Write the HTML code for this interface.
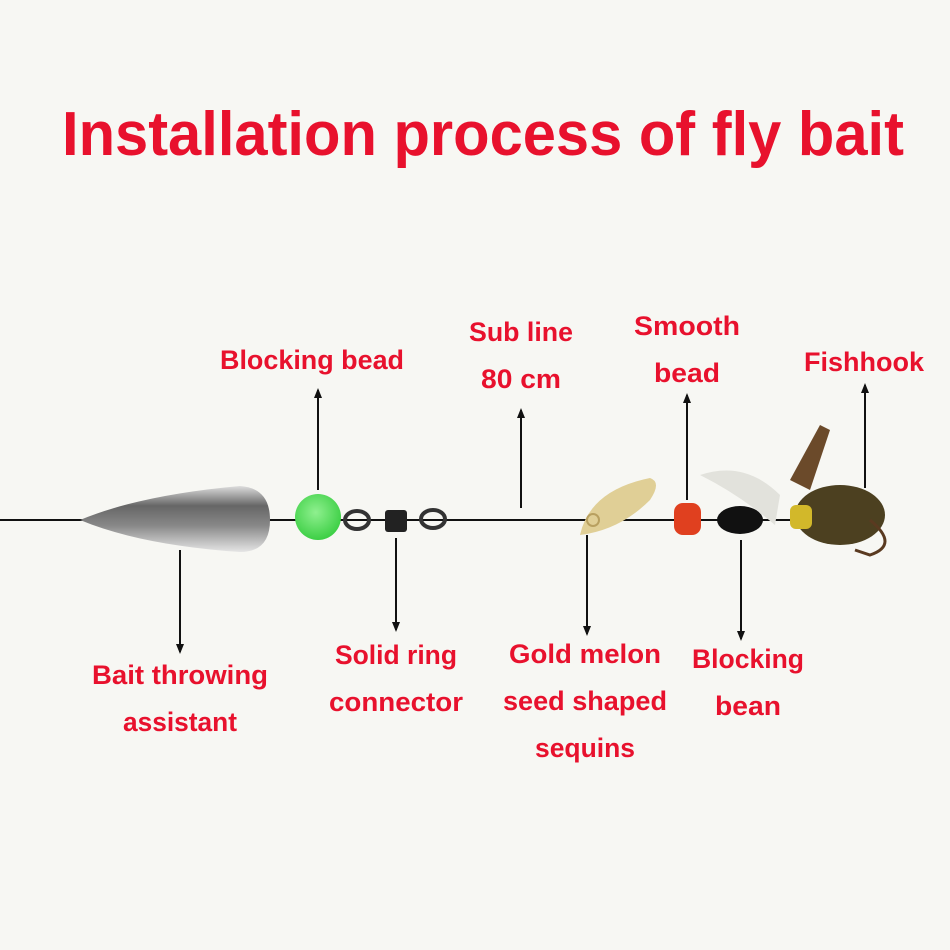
<!DOCTYPE html>
<html><head><style>html,body{margin:0;padding:0;background:#f7f7f3}svg{display:block}</style></head>
<body>
<svg width="950" height="950" viewBox="0 0 950 950" xmlns="http://www.w3.org/2000/svg">
<defs>
<marker id="a" markerUnits="userSpaceOnUse" markerWidth="10" markerHeight="10" refX="8" refY="5" orient="auto"><path d="M0,1 L10,5 L0,9 z" fill="#111"/></marker>
<linearGradient id="sink" x1="0" y1="0" x2="0" y2="1"><stop offset="0" stop-color="#ddd"/><stop offset="0.3" stop-color="#666"/><stop offset="0.6" stop-color="#888"/><stop offset="1" stop-color="#e5e5e5"/></linearGradient>
<radialGradient id="grn" cx="0.45" cy="0.4" r="0.6"><stop offset="0" stop-color="#8ff08f"/><stop offset="1" stop-color="#3dcf45"/></radialGradient>
</defs>
<rect width="950" height="950" fill="#f7f7f3"/>
<text x="483" y="155" text-anchor="middle" font-family="Liberation Sans, sans-serif" font-weight="bold" font-size="62" fill="#e8112d" textLength="842" lengthAdjust="spacingAndGlyphs">Installation process of fly bait</text>
<line x1="0" y1="520" x2="800" y2="520" stroke="#111" stroke-width="2"/>
<path d="M80,520 Q140,495 240,486 Q270,488 270,520 Q270,552 240,552 Q140,545 80,520 z" fill="url(#sink)"/>
<circle cx="318" cy="517" r="23" fill="url(#grn)"/>
<ellipse cx="357" cy="520" rx="12" ry="9" fill="none" stroke="#333" stroke-width="4"/>
<rect x="385" y="510" width="22" height="22" rx="3" fill="#222"/>
<ellipse cx="433" cy="519" rx="12" ry="9" fill="none" stroke="#333" stroke-width="4"/>
<path d="M580,535 Q590,490 650,478 Q662,482 650,500 Q620,530 580,535 z" fill="#e0cf96"/>
<circle cx="593" cy="520" r="6" fill="none" stroke="#b8a060" stroke-width="2"/>
<path d="M700,475 Q745,460 780,495 L775,525 Q740,495 700,475 z" fill="#e2e2dc"/>
<rect x="674" y="503" width="27" height="32" rx="9" fill="#e0401f"/>
<ellipse cx="740" cy="520" rx="23" ry="14" fill="#111"/>
<path d="M790,480 L820,425 L830,430 L810,490 z" fill="#6b4a2a"/>
<ellipse cx="840" cy="515" rx="45" ry="30" fill="#4c4020"/>
<rect x="790" y="505" width="22" height="24" rx="6" fill="#d2b82a"/>
<path d="M870,520 Q900,545 870,555 L855,550" fill="none" stroke="#5a3a20" stroke-width="3"/>
<g stroke="#111" stroke-width="2" marker-end="url(#a)">
<line x1="318" y1="490" x2="318" y2="390"/>
<line x1="521" y1="508" x2="521" y2="410"/>
<line x1="687" y1="500" x2="687" y2="395"/>
<line x1="865" y1="488" x2="865" y2="385"/>
<line x1="180" y1="550" x2="180" y2="652"/>
<line x1="396" y1="538" x2="396" y2="630"/>
<line x1="587" y1="535" x2="587" y2="634"/>
<line x1="741" y1="540" x2="741" y2="639"/>
</g>
<g font-family="Liberation Sans, sans-serif" font-weight="bold" font-size="27" fill="#e8112d" text-anchor="middle">
<text x="312" y="369" textLength="184" lengthAdjust="spacingAndGlyphs">Blocking bead</text>
<text x="521" y="341" textLength="104" lengthAdjust="spacingAndGlyphs">Sub line</text>
<text x="521" y="388" textLength="80" lengthAdjust="spacingAndGlyphs">80 cm</text>
<text x="687" y="335" textLength="106" lengthAdjust="spacingAndGlyphs">Smooth</text>
<text x="687" y="382" textLength="66" lengthAdjust="spacingAndGlyphs">bead</text>
<text x="864" y="371" textLength="120" lengthAdjust="spacingAndGlyphs">Fishhook</text>
<text x="180" y="684" textLength="176" lengthAdjust="spacingAndGlyphs">Bait throwing</text>
<text x="180" y="731" textLength="114" lengthAdjust="spacingAndGlyphs">assistant</text>
<text x="396" y="664" textLength="122" lengthAdjust="spacingAndGlyphs">Solid ring</text>
<text x="396" y="711" textLength="134" lengthAdjust="spacingAndGlyphs">connector</text>
<text x="585" y="663" textLength="152" lengthAdjust="spacingAndGlyphs">Gold melon</text>
<text x="585" y="710" textLength="164" lengthAdjust="spacingAndGlyphs">seed shaped</text>
<text x="585" y="757" textLength="100" lengthAdjust="spacingAndGlyphs">sequins</text>
<text x="748" y="668" textLength="112" lengthAdjust="spacingAndGlyphs">Blocking</text>
<text x="748" y="715" textLength="66" lengthAdjust="spacingAndGlyphs">bean</text>
</g>
</svg>
</body></html>
